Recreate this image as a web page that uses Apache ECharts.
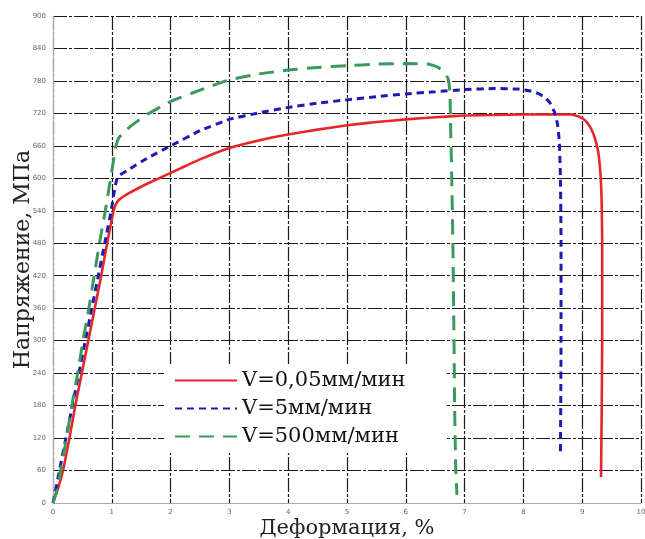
<!DOCTYPE html>
<html>
<head>
<meta charset="utf-8">
<script src="https://cdn.jsdelivr.net/npm/echarts@6/dist/echarts.min.js"></script>
<style>html,body{margin:0;padding:0;background:#fff}#c{width:645px;height:539px}</style>
</head>
<body>
<div id="c"></div>
<script>
const seriesNames = ['V=0,05мм/мин', 'V=5мм/мин', 'V=500мм/мин'];
const xTicks = [0,1,2,3,4,5,6,7,8,9,10];
const yTicks = [0,60,120,180,240,300,360,420,480,540,600,660,720,780,840,900];

const redData = [[0,0],[0.08,25],[0.17,60],[0.28,120],[0.38,180],[0.49,240],[0.6,300],[0.71,360],[0.82,420],[0.92,480],[1.02,535],[1.06,550],[1.12,560],[1.3,573],[1.6,590],[2,610],[2.16,618],[2.5,635],[3,656],[3.5,670],[4,681],[4.5,690],[5,698],[5.5,704],[6,709],[6.5,713],[7,716],[7.5,717],[8,718],[8.5,718],[8.82,718],[8.95,714],[9.05,707],[9.15,692],[9.21,676],[9.27,650],[9.31,609],[9.33,560],[9.34,485],[9.34,300],[9.33,150],[9.32,48]];

const blueData = [[0,0],[0.11,60],[0.22,120],[0.33,180],[0.44,240],[0.55,300],[0.66,360],[0.77,420],[0.88,480],[0.99,540],[1.04,575],[1.1,603],[1.3,617],[1.6,637],[2,660],[2.5,688],[3,709],[3.5,721],[4,731],[4.5,739],[5,745],[5.5,751],[6,756],[6.5,760],[7,764],[7.5,766],[7.9,765],[8.1,762],[8.25,757],[8.36,750],[8.45,740],[8.53,722],[8.58,700],[8.61,670],[8.63,600],[8.64,485],[8.64,300],[8.63,95]];

const greenData = [[0,0],[0.07,25],[0.13,60],[0.23,120],[0.32,180],[0.42,240],[0.51,300],[0.61,360],[0.7,420],[0.79,480],[0.89,540],[0.98,600],[1.04,640],[1.07,660],[1.12,675],[1.25,690],[1.4,703],[1.6,718],[2,742],[2.5,763],[3,782],[3.5,793],[4,800],[4.5,805],[5,808],[5.5,811],[6,812],[6.4,811],[6.55,805],[6.65,796],[6.72,784],[6.75,760],[6.76,707],[6.78,609],[6.8,485],[6.82,300],[6.83,180],[6.85,60],[6.87,15]];

const chart = echarts.init(document.getElementById('c'), null, {renderer:'canvas'});
const gridLine = {show:true, lineStyle:{color:'#1a1a1a', width:1.2, type:[14,2,3,2]}};
const labelStyle = {color:'#666', fontSize:7, fontFamily:'DejaVu Sans'};
chart.setOption({
  animation:false,
  backgroundColor:'#fff',
  grid:{left:53, right:4, top:16, bottom:36, containLabel:false, outerBoundsMode:'none'},
  xAxis:{type:'value', min:0, max:10, interval:1,
    name:'Деформация, %', nameLocation:'middle', nameGap:15, nameMoveOverlap:false,
    nameTextStyle:{fontFamily:'DejaVu Serif', fontSize:21, color:'#222', verticalAlign:'top'},
    axisLine:{show:true, lineStyle:{color:'#aaa', width:1}},
    axisTick:{show:false},
    axisLabel:Object.assign({margin:6, formatter:v=>xTicks.includes(v)?String(v):''}, labelStyle),
    splitLine:gridLine},
  yAxis:{type:'value', min:0, max:900, interval:60,
    name:'Напряжение, МПа', nameLocation:'middle', nameGap:19, nameMoveOverlap:false,
    nameTextStyle:{fontFamily:'DejaVu Serif', fontSize:22, color:'#222'},
    axisLine:{show:true, lineStyle:{color:'#aaa', width:1}},
    axisTick:{show:false},
    axisLabel:Object.assign({margin:7, formatter:v=>yTicks.includes(v)?String(v):''}, labelStyle),
    splitLine:gridLine},
  legend:{orient:'vertical', left:164, top:364, padding:[6,40,6,10],
    backgroundColor:'#fff', itemWidth:62, itemHeight:12, itemGap:7,
    itemStyle:{color:'transparent', borderWidth:0, opacity:0},
    textStyle:{fontFamily:'DejaVu Serif', fontSize:21, color:'#111'},
    data:seriesNames},
  series:[
    {name:seriesNames[0], type:'line', data:redData, showSymbol:false, symbol:'none', smooth:0.12,
     lineStyle:{color:'#e8262a', width:2.6, type:'solid'}, itemStyle:{color:'#e8262a'}},
    {name:seriesNames[1], type:'line', data:blueData, showSymbol:false, symbol:'none', smooth:0.12,
     lineStyle:{color:'#1c1cb0', width:3, type:[7,5]}, itemStyle:{color:'#1c1cb0'}},
    {name:seriesNames[2], type:'line', data:greenData, showSymbol:false, symbol:'none', smooth:0.12,
     lineStyle:{color:'#3a9a5c', width:3, type:[15,9]}, itemStyle:{color:'#3a9a5c'}}
  ]
});
</script>
</body>
</html>
